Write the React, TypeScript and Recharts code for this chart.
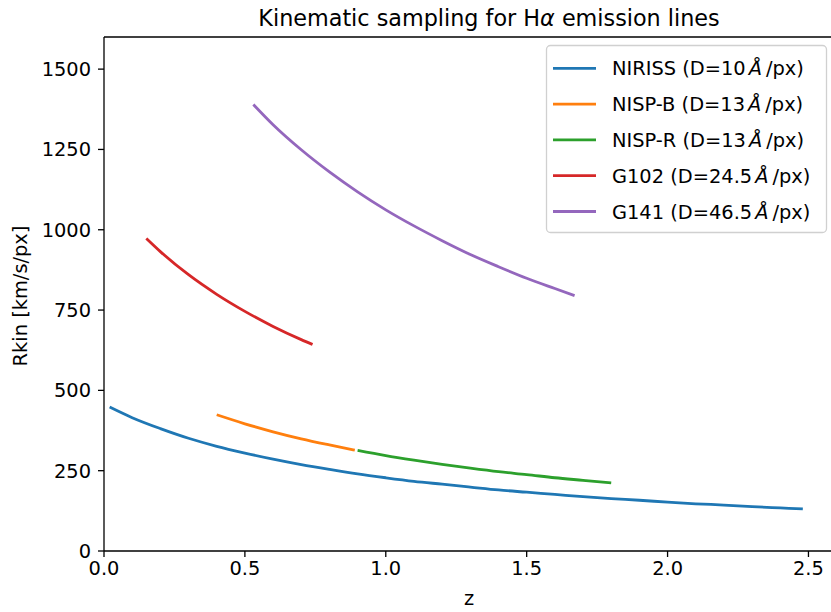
import { LineChart, Line, XAxis, YAxis, ReferenceLine } from 'recharts'

const FONT = '"DejaVu Sans", sans-serif'

// Rkin [km/s/px], per instrument
const niriss = [
  { z: 0.02, v: 448 }, { z: 0.1, v: 415 }, { z: 0.2, v: 381 }, { z: 0.3, v: 351 },
  { z: 0.4, v: 326 }, { z: 0.5, v: 305 }, { z: 0.6, v: 286 }, { z: 0.7, v: 269 },
  { z: 0.8, v: 254 }, { z: 0.9, v: 240 }, { z: 1.0, v: 228 }, { z: 1.1, v: 217 },
  { z: 1.2, v: 208 }, { z: 1.3, v: 199 }, { z: 1.4, v: 190 }, { z: 1.5, v: 183 },
  { z: 1.6, v: 176 }, { z: 1.7, v: 169 }, { z: 1.8, v: 163 }, { z: 1.9, v: 158 },
  { z: 2.0, v: 152 }, { z: 2.1, v: 147 }, { z: 2.2, v: 143 }, { z: 2.3, v: 138 },
  { z: 2.4, v: 134 }, { z: 2.48, v: 131 },
]
const nispB = [
  { z: 0.4, v: 424 }, { z: 0.5, v: 396 }, { z: 0.6, v: 371 },
  { z: 0.7, v: 349 }, { z: 0.8, v: 330 }, { z: 0.89, v: 314 },
]
const nispR = [
  { z: 0.9, v: 313 }, { z: 1.0, v: 297 }, { z: 1.1, v: 283 }, { z: 1.2, v: 270 },
  { z: 1.3, v: 258 }, { z: 1.4, v: 247 }, { z: 1.5, v: 238 }, { z: 1.6, v: 228 },
  { z: 1.7, v: 220 }, { z: 1.8, v: 212 },
]
const g102 = [
  { z: 0.15, v: 973 }, { z: 0.2, v: 932 }, { z: 0.3, v: 860 }, { z: 0.4, v: 799 },
  { z: 0.5, v: 746 }, { z: 0.6, v: 699 }, { z: 0.7, v: 658 }, { z: 0.74, v: 643 },
]
const g141 = [
  { z: 0.53, v: 1390 }, { z: 0.6, v: 1327 }, { z: 0.7, v: 1249 }, { z: 0.8, v: 1180 },
  { z: 0.9, v: 1118 }, { z: 1.0, v: 1062 }, { z: 1.1, v: 1012 }, { z: 1.2, v: 966 },
  { z: 1.3, v: 923 }, { z: 1.4, v: 885 }, { z: 1.5, v: 849 }, { z: 1.6, v: 817 },
  { z: 1.67, v: 795 },
]

const xTicks = [0, 0.5, 1.0, 1.5, 2.0, 2.5]
const yTicks = [0, 250, 500, 750, 1000, 1250, 1500]

const series = [
  { name: 'NIRISS', d: '10', color: '#1f77b4', data: niriss },
  { name: 'NISP-B', d: '13', color: '#ff7f0e', data: nispB },
  { name: 'NISP-R', d: '13', color: '#2ca02c', data: nispR },
  { name: 'G102', d: '24.5', color: '#d62728', data: g102 },
  { name: 'G141', d: '46.5', color: '#9467bd', data: g141 },
]

const tickStyle = { fontSize: 19.4, fill: '#000', fontFamily: FONT }

export default function App() {
  return (
    <div style={{ position: 'absolute', left: 0, top: 0, width: 831, height: 612, background: '#fff' }}>
      <LineChart width={831} height={612} margin={{ top: 37, right: 0, left: 44, bottom: 31 }}>
        <XAxis
          type="number"
          dataKey="z"
          domain={[0, 2.58]}
          allowDataOverflow
          ticks={xTicks}
          tickFormatter={(v: number) => v.toFixed(1)}
          tick={tickStyle}
          tickSize={6}
          tickMargin={4}
          height={30}
          stroke="#000"
          strokeWidth={1.3}
        />
        <YAxis
          type="number"
          domain={[0, 1600]}
          ticks={yTicks}
          tick={tickStyle}
          tickSize={6}
          tickMargin={7}
          width={60}
          stroke="#000"
          strokeWidth={1.3}
        />
        <ReferenceLine y={1600} stroke="#000" strokeWidth={1.3} ifOverflow="visible" />
        {series.map((s) => (
          <Line
            key={s.name}
            data={s.data}
            dataKey="v"
            type="monotone"
            stroke={s.color}
            strokeWidth={2.8}
            dot={false}
            isAnimationActive={false}
          />
        ))}
      </LineChart>

      <svg width={831} height={612} style={{ position: 'absolute', left: 0, top: 0, pointerEvents: 'none' }}>
        <text x={489} y={26} textAnchor="middle" fontSize={22.3} fontFamily={FONT}>
          Kinematic sampling for H<tspan fontStyle="italic">α</tspan> emission lines
        </text>
        <text x={469} y={605} textAnchor="middle" fontSize={19.4} fontFamily={FONT}>z</text>
        <text
          x={0}
          y={0}
          transform="translate(27,296) rotate(-90)"
          textAnchor="middle"
          fontSize={19.4}
          fontFamily={FONT}
        >
          Rkin [km/s/px]
        </text>

        <rect x={546.5} y={45.5} width={280} height={187} rx={4} fill="#fff" fillOpacity={0.8} stroke="#d0d0d0" strokeWidth={1.3} />
        {series.map((s, i) => {
          const y = 68.3 + i * 35.8
          return (
            <g key={s.name}>
              <line x1={553} x2={596} y1={y} y2={y} stroke={s.color} strokeWidth={2.8} />
              <text x={612} y={y + 7} fontSize={19.4} fontFamily={FONT}>
                {s.name} (D={s.d}
                <tspan fontStyle="italic" dx={3}>Å</tspan>
                <tspan dx={4}>/px)</tspan>
              </text>
            </g>
          )
        })}
      </svg>
    </div>
  )
}
